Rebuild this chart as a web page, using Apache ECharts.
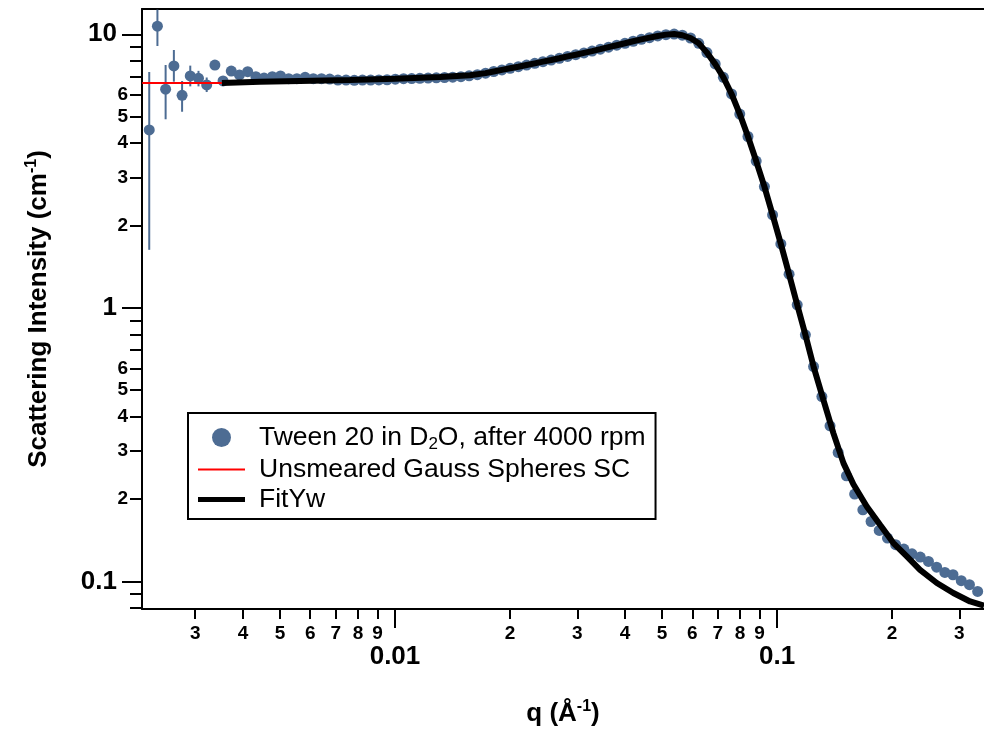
<!DOCTYPE html>
<html>
<head>
<meta charset="utf-8">
<script src="https://cdn.jsdelivr.net/npm/echarts@6/dist/echarts.min.js"></script>
<style>html,body{margin:0;padding:0;background:#fff}#c{width:984px;height:732px}</style>
</head>
<body>
<div id="c"></div>
<script>
// ---- data ----
const qData = [0.002274,0.002389,0.002510,0.002638,0.002772,0.002912,0.003060,0.003215,0.003378,0.003548,
0.003728,0.003917,0.004116,0.004324,0.004543,0.004774,0.005016,0.005270,0.005537,0.005818,
0.006112,0.006422,0.006748,0.007089,0.007447,0.007825,0.008220,0.008637,0.009076,0.009535,
0.01002,0.01053,0.01106,0.01162,0.01221,0.01283,0.01348,0.01416,0.01488,0.01563,
0.01643,0.01726,0.01813,0.01905,0.02001,0.02103,0.02210,0.02322,0.02439,0.02563,
0.02693,0.02829,0.02972,0.03123,0.03281,0.03447,0.03622,0.03805,0.03998,0.04201,
0.04413,0.04637,0.04872,0.05118,0.05378,0.05650,0.05936,0.06237,0.06552,0.06887,
0.07236,0.07601,0.07987,0.08391,0.08817,0.09265,0.09734,0.1023,0.1075,0.1129,
0.1186,0.1246,0.1310,0.1376,0.1445,0.1519,0.1596,0.1677,0.1762,0.1851,
0.1945,0.2043,0.2147,0.2255,0.2370,0.2490,0.2616,0.2749,0.2887,0.3034,
0.3188,0.3349,0.3519];
const iData = [4.47,10.7,6.30,7.66,5.98,7.04,6.90,6.53,7.72,6.75,
7.34,7.10,7.30,7.00,6.92,7.00,7.04,6.88,6.88,6.96,
6.88,6.88,6.86,6.80,6.80,6.79,6.80,6.80,6.81,6.82,
6.85,6.88,6.89,6.90,6.92,6.93,6.95,6.97,7.00,7.05,
7.12,7.21,7.31,7.41,7.51,7.61,7.72,7.83,7.94,8.05,
8.17,8.30,8.42,8.55,8.68,8.82,8.97,9.12,9.27,9.43,
9.58,9.72,9.86,9.97,10.02,9.92,9.69,9.27,8.57,7.79,
6.96,6.05,5.11,4.23,3.44,2.775,2.186,1.713,1.328,1.026,
0.797,0.610,0.474,0.3706,0.296,0.2433,0.2086,0.1828,0.1656,0.1536,
0.1441,0.1362,0.1313,0.1262,0.1228,0.1183,0.1128,0.1079,0.1058,0.1006,
0.0973,0.0919,0.0909];
// error bars (first points)
const errQ  = [0.002274,0.002389,0.002510,0.002638,0.002772,0.002912,0.003060,0.003215];
const errLo = [1.63,9.06,4.89,6.71,5.21,6.45,6.45,6.15];
const errHi = [7.28,12.3,7.72,8.76,6.75,7.68,7.35,6.95];
// smeared fit (FitYw)
const fitQ = [0.003524,0.004432,0.005640,0.007623,0.01000,0.01311,0.01571,
0.01726,0.01813,0.01905,0.02001,0.02103,0.02210,0.02322,0.02439,0.02563,
0.02693,0.02829,0.02972,0.03123,0.03281,0.03447,0.03622,0.03805,0.03998,0.04201,
0.04413,0.04637,0.04872,0.05118,0.05378,0.05650,0.05936,0.06237,0.06552,0.06887,
0.07236,0.07601,0.07987,0.08391,0.08817,0.09265,0.09734,0.1023,0.1075,0.1129,
0.1186,0.1246,0.1322,0.1404,0.1492,0.1584,0.1717,0.1860,0.2016,0.2186,0.2367,
0.2619,0.2893,0.3200,0.3481];
const fitI = [6.63,6.70,6.75,6.80,6.88,6.98,7.08,
7.21,7.31,7.41,7.51,7.61,7.72,7.83,7.94,8.05,
8.17,8.30,8.42,8.55,8.68,8.82,8.97,9.12,9.27,9.43,
9.58,9.72,9.86,9.97,10.02,9.92,9.69,9.27,8.57,7.79,
6.96,6.05,5.11,4.23,3.44,2.775,2.186,1.713,1.328,1.026,
0.797,0.610,0.461,0.3485,0.2707,0.2265,0.188,0.1611,0.1381,0.1234,0.1103,
0.0987,0.0907,0.0845,0.0815];
// unsmeared model (visible part)
const redQ = [0.00218,0.003524];
const redI = [6.63,6.63];
// axis ticks
const xMajorTicks = [0.01,0.1];
const xMinorTicks = [0.003,0.004,0.005,0.006,0.007,0.008,0.009,0.02,0.03,0.04,0.05,0.06,0.07,0.08,0.09,0.2,0.3];
const yMajorTicks = [0.1,1,10];
const yMinorTicks = [0.08,0.09,0.2,0.3,0.4,0.5,0.6,0.7,0.8,0.9,2,3,4,5,6,7,8,9];
const yMinorLabels = [0.2,0.3,0.4,0.5,0.6,2,3,4,5,6];
const seriesNames = ['Tween 20 in D2O, after 4000 rpm','Unsmeared Gauss Spheres SC','FitYw'];

// ---- chart ----
const FONT = '"Liberation Sans", Arial, Helvetica, sans-serif';
const X_MIN = 0.002177, X_MAX = 0.348, Y_MIN = 0.0793, Y_MAX = 12.37;
const DOT = '#4d6c93';
const fmtMajor = v => String(+Number(v).toPrecision(3));
const fmtMinor = v => { const e = Math.floor(Math.log10(v) + 1e-9); return String(Math.round(v / Math.pow(10, e))); };
const axisLineStyle = {color:'#000', width:2};

const chart = echarts.init(document.getElementById('c'), null, {renderer:'canvas'});
const zip = (a, b) => a.map((v, i) => [v, b[i]]);

chart.setOption({
  animation:false,
  backgroundColor:'#fff',
  grid:{left:142, top:9, width:842, height:600, containLabel:false},
  legend:{
    orient:'vertical', left:188, top:413,
    backgroundColor:'#fff', borderColor:'#000', borderWidth:2, borderRadius:0,
    padding:[11,10,6,10], itemGap:3, itemWidth:47, itemHeight:19,
    data:[
      {name:seriesNames[0], icon:'circle'},
      {name:seriesNames[1], icon:'path://M0,0H47V2H0Z'},
      {name:seriesNames[2], icon:'path://M0,0H47V5H0Z'}
    ],
    formatter: function(name){
      if (name === seriesNames[0]) return '{n|Tween 20 in D}{s|2}{n|O, after 4000 rpm}';
      return '{n|' + name + '}';
    },
    textStyle:{
      fontFamily:FONT, fontSize:26.5, color:'#000', padding:[0,0,0,9],
      rich:{
        n:{fontFamily:FONT, fontSize:26.5, color:'#000', lineHeight:31},
        s:{fontFamily:FONT, fontSize:17, color:'#000', lineHeight:12, verticalAlign:'bottom'}
      }
    }
  },
  xAxis:[
    {type:'log', logBase:10, min:X_MIN, max:X_MAX, position:'bottom',
     axisLine:{show:true, onZero:false, lineStyle:axisLineStyle},
     axisTick:{show:true, customValues:xMajorTicks, length:19, lineStyle:axisLineStyle},
     axisLabel:{show:true, customValues:xMajorTicks, formatter:fmtMajor, margin:35,
       fontFamily:FONT, fontSize:26, fontWeight:'bold', color:'#000'},
     splitLine:{show:false}, minorTick:{show:false},
     name:'{b|q (Å}{s|-1}{b|)}', nameLocation:'middle', nameGap:90,
     nameTextStyle:{rich:{
       b:{fontFamily:FONT, fontSize:26, fontWeight:'bold', color:'#000', lineHeight:30},
       s:{fontFamily:FONT, fontSize:16, fontWeight:'bold', color:'#000', lineHeight:17, verticalAlign:'top'}
     }}
    },
    {type:'log', logBase:10, min:X_MIN, max:X_MAX, position:'bottom',
     axisLine:{show:false, onZero:false},
     axisTick:{show:true, customValues:xMinorTicks, length:10, lineStyle:axisLineStyle},
     axisLabel:{show:true, customValues:xMinorTicks, formatter:fmtMinor, margin:15,
       fontFamily:FONT, fontSize:19, fontWeight:'bold', color:'#000'},
     splitLine:{show:false}
    },
    {type:'log', logBase:10, min:X_MIN, max:X_MAX, position:'top',
     axisLine:{show:true, onZero:false, lineStyle:axisLineStyle},
     axisTick:{show:false}, axisLabel:{show:false}, splitLine:{show:false}
    }
  ],
  yAxis:[
    {type:'log', logBase:10, min:Y_MIN, max:Y_MAX, position:'left',
     axisLine:{show:true, onZero:false, lineStyle:axisLineStyle},
     axisTick:{show:true, customValues:yMajorTicks, length:20, lineStyle:axisLineStyle},
     axisLabel:{show:true, customValues:yMajorTicks, formatter:fmtMajor, margin:25,
       fontFamily:FONT, fontSize:26, fontWeight:'bold', color:'#000'},
     splitLine:{show:false},
     name:'{b|Scattering Intensity (cm}{s|-1}{b|)}', nameLocation:'middle', nameGap:88, nameRotate:90,
     nameTextStyle:{rich:{
       b:{fontFamily:FONT, fontSize:26, fontWeight:'bold', color:'#000', lineHeight:30},
       s:{fontFamily:FONT, fontSize:16, fontWeight:'bold', color:'#000', lineHeight:17, verticalAlign:'top'}
     }}
    },
    {type:'log', logBase:10, min:Y_MIN, max:Y_MAX, position:'left',
     axisLine:{show:false, onZero:false},
     axisTick:{show:true, customValues:yMinorTicks, length:12, lineStyle:axisLineStyle},
     axisLabel:{show:true, customValues:yMinorLabels, formatter:fmtMinor, margin:14,
       fontFamily:FONT, fontSize:19, fontWeight:'bold', color:'#000'},
     splitLine:{show:false}
    }
  ],
  series:[
    {name:'errors', type:'custom', xAxisIndex:0, yAxisIndex:0, clip:true, z:2,
     data: errQ.map((q, i) => [q, errLo[i], errHi[i]]),
     encode:{x:0, y:[1,2]},
     renderItem: function(params, api){
       const q = api.value(0);
       const a = api.coord([q, api.value(1)]);
       const b = api.coord([q, api.value(2)]);
       return {type:'line', shape:{x1:a[0], y1:a[1], x2:b[0], y2:b[1]},
               style:{stroke:DOT, lineWidth:2}};
     }
    },
    {name:seriesNames[0], type:'scatter', xAxisIndex:0, yAxisIndex:0, z:3,
     symbol:'circle', symbolSize:11, itemStyle:{color:DOT, opacity:1},
     data: zip(qData, iData)
    },
    {name:seriesNames[1], type:'line', xAxisIndex:0, yAxisIndex:0, z:4,
     symbol:'none', showSymbol:false, lineStyle:{color:'#ff0000', width:2}, itemStyle:{color:'#ff0000'},
     data: zip(redQ, redI)
    },
    {name:seriesNames[2], type:'line', xAxisIndex:0, yAxisIndex:0, z:5,
     symbol:'none', showSymbol:false, lineStyle:{color:'#000', width:6}, itemStyle:{color:'#000'},
     data: zip(fitQ, fitI)
    }
  ]
});
</script>
</body>
</html>
